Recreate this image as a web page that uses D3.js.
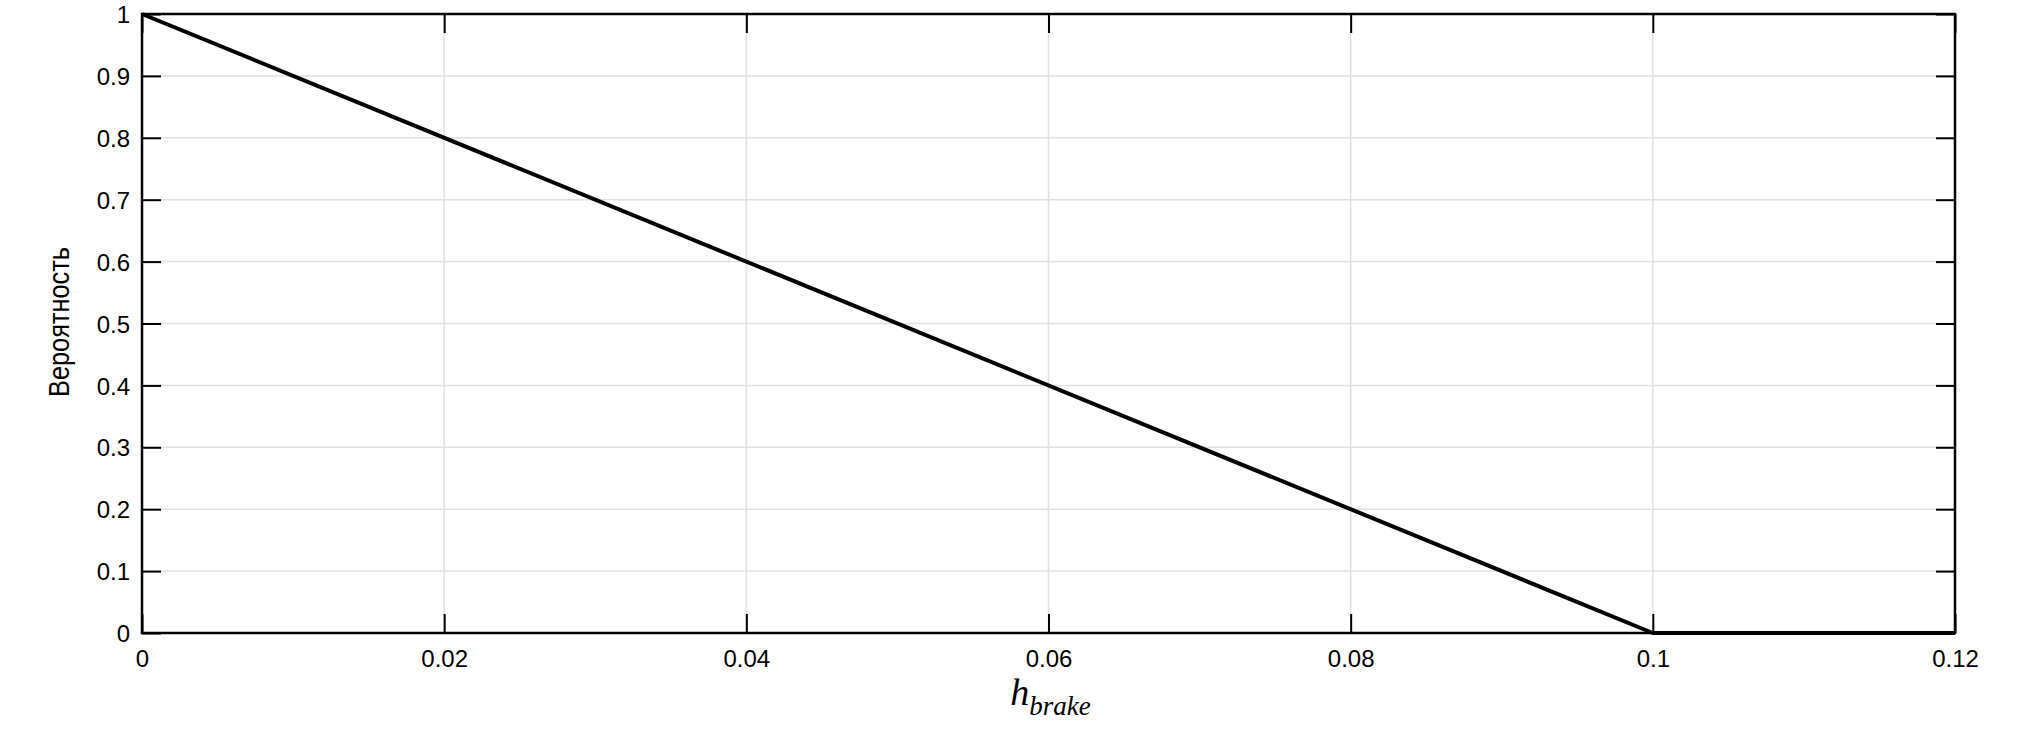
<!DOCTYPE html>
<html>
<head>
<meta charset="utf-8">
<script src="https://cdn.jsdelivr.net/npm/d3@7"></script>
<style>
  body { margin: 0; background: #fff; }
  svg { display: block; }
</style>
</head>
<body>
<div id="vis"></div>
<script>
// probability curve h_brake -> probability
var hValues = [0, 0.1, 0.12];
var probValues = [1, 0, 0];

var xTicks = [0, 0.02, 0.04, 0.06, 0.08, 0.1, 0.12];
var xTickLabels = ['0', '0.02', '0.04', '0.06', '0.08', '0.1', '0.12'];
var yTicks = [0, 0.1, 0.2, 0.3, 0.4, 0.5, 0.6, 0.7, 0.8, 0.9, 1];
var yTickLabels = ['0', '0.1', '0.2', '0.3', '0.4', '0.5', '0.6', '0.7', '0.8', '0.9', '1'];

var yLabel = 'Вероятность';

var width = 2020;
var height = 733;
var margin = { top: 14, left: 142, bottom: 100, right: 65 };
var innerW = width - margin.left - margin.right;
var innerH = height - margin.top - margin.bottom;

var svg = d3.select('#vis').append('svg')
  .attr('width', width)
  .attr('height', height);

var g = svg.append('g')
  .attr('transform', 'translate(' + margin.left + ',' + margin.top + ')');

var x = d3.scaleLinear().domain([0, 0.12]).range([0, innerW]);
var y = d3.scaleLinear().domain([0, 1]).range([innerH, 0]);

// grid
g.append('g').selectAll('line.vgrid').data(xTicks).enter()
  .append('line')
  .attr('x1', function (d) { return x(d); })
  .attr('x2', function (d) { return x(d); })
  .attr('y1', 0).attr('y2', innerH)
  .attr('stroke', '#e0e0e0').attr('stroke-width', 1.5);
g.append('g').selectAll('line.hgrid').data(yTicks).enter()
  .append('line')
  .attr('y1', function (d) { return y(d); })
  .attr('y2', function (d) { return y(d); })
  .attr('x1', 0).attr('x2', innerW)
  .attr('stroke', '#e0e0e0').attr('stroke-width', 1.5);

// axes (inward ticks like matlab)
var tickLen = 19;
var xAxis = d3.axisBottom(x).tickValues(xTicks)
  .tickFormat(function (d, i) { return xTickLabels[i]; })
  .tickSizeInner(-tickLen).tickSizeOuter(0);
var xAxisTop = d3.axisTop(x).tickValues(xTicks)
  .tickFormat('').tickSizeInner(-tickLen).tickSizeOuter(0);
var yAxis = d3.axisLeft(y).tickValues(yTicks)
  .tickFormat(function (d, i) { return yTickLabels[i]; })
  .tickSizeInner(-tickLen).tickSizeOuter(0);
var yAxisRight = d3.axisRight(y).tickValues(yTicks)
  .tickFormat('').tickSizeInner(-tickLen).tickSizeOuter(0);

g.append('g').attr('class', 'x axis')
  .attr('transform', 'translate(0,' + innerH + ')').call(xAxis);
g.append('g').attr('class', 'x2 axis').call(xAxisTop);
g.append('g').attr('class', 'y axis').call(yAxis);
g.append('g').attr('class', 'y2 axis')
  .attr('transform', 'translate(' + innerW + ',0)').call(yAxisRight);

g.selectAll('.axis .domain').remove();
g.selectAll('.axis .tick line').attr('stroke', '#000').attr('stroke-width', 2);
g.selectAll('.axis .tick text')
  .attr('fill', '#000')
  .style('font-family', '"Liberation Sans", Arial, sans-serif')
  .style('font-size', '24px');
g.selectAll('.x.axis .tick text').attr('y', 17).attr('dy', '0.71em');
g.selectAll('.y.axis .tick text').attr('x', -12).attr('dy', '0.36em');

// frame
g.append('rect')
  .attr('x', 0).attr('y', 0)
  .attr('width', innerW).attr('height', innerH)
  .attr('fill', 'none').attr('stroke', '#000').attr('stroke-width', 2.5);

// curve
var line = d3.line()
  .x(function (d) { return x(d[0]); })
  .y(function (d) { return y(d[1]); });
var pts = hValues.map(function (h, i) { return [h, probValues[i]]; });
g.append('path')
  .datum(pts)
  .attr('d', line)
  .attr('fill', 'none')
  .attr('stroke', '#000')
  .attr('stroke-width', 4)
  .attr('stroke-linejoin', 'round');

// x label h_brake
var xl = svg.append('text')
  .attr('x', margin.left + innerW / 2 + 2)
  .attr('y', 705)
  .attr('text-anchor', 'middle')
  .style('font-family', '"Liberation Serif", "Times New Roman", serif')
  .style('font-style', 'italic');
xl.append('tspan').style('font-size', '38px').text('h');
xl.append('tspan').style('font-size', '27px').attr('dy', 10).text('brake');

// y label
svg.append('text')
  .attr('transform', 'translate(69,' + (247 + 75) + ') rotate(-90)')
  .attr('text-anchor', 'middle')
  .attr('textLength', 150)
  .attr('lengthAdjust', 'spacingAndGlyphs')
  .style('font-family', '"Liberation Sans", Arial, sans-serif')
  .style('font-size', '29px')
  .text(yLabel);
</script>
</body>
</html>
